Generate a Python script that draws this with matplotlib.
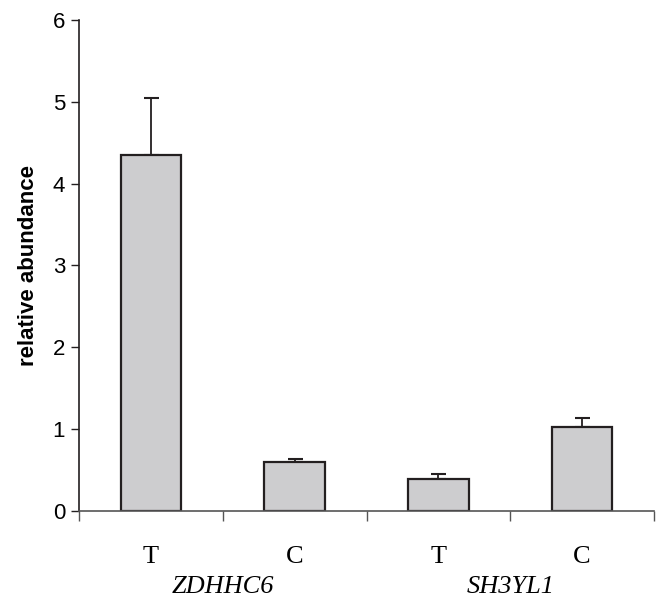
import numpy as np
import matplotlib
matplotlib.use('Agg')
import matplotlib.pyplot as plt

# values
samples = ['T', 'C', 'T', 'C']
genes = ['ZDHHC6', 'SH3YL1']
abundance = [4.35, 0.60, 0.39, 1.03]
err_up = [0.70, 0.04, 0.06, 0.11]

plt.rcParams['font.family'] = ['Liberation Sans', 'DejaVu Sans']

fig = plt.figure(figsize=(6.58, 6.02), dpi=100)
ax = fig.add_axes([0.1201, 0.1512, 0.8738, 0.8156])

x = np.arange(len(abundance))
ax.bar(x, abundance, width=0.42, color='#cdcdcf', edgecolor='#231f20',
       linewidth=1.6, zorder=2)
ax.errorbar(x, abundance, yerr=[np.zeros(len(err_up)), err_up], fmt='none',
            ecolor='#231f20', elinewidth=1.3, capsize=5.4, capthick=1.5,
            zorder=1)

ax.set_xlim(-0.5, 3.5)
ax.set_ylim(0, 6)
ax.set_yticks(range(0, 7))
ax.tick_params(axis='y', labelsize=16, length=6, width=1, color='#231f20',
               pad=4)

# boundary ticks on x axis, sample labels as minor ticks
ax.set_xticks(np.arange(-0.5, 4.0, 1.0))
ax.set_xticklabels([])
ax.tick_params(axis='x', which='major', length=7, width=1, color='#555555')
ax.set_xticks(x, minor=True)
ax.set_xticklabels(samples, minor=True, fontfamily='Liberation Serif',
                   fontsize=19)
ax.tick_params(axis='x', which='minor', length=0, pad=25)

for i, g in enumerate(genes):
    ax.annotate(g, xy=(2 * i + 0.5, 0), xycoords=('data', 'axes fraction'),
                xytext=(0, -55), textcoords='offset points', ha='center',
                va='center', fontsize=19, fontstyle='italic',
                fontfamily='Liberation Serif')

ax.set_ylabel('relative abundance', fontsize=16, fontweight='bold',
              fontstretch='normal', labelpad=10)

ax.spines['top'].set_visible(False)
ax.spines['right'].set_visible(False)
ax.spines['left'].set_linewidth(1.2)
ax.spines['left'].set_color('#231f20')
ax.spines['bottom'].set_linewidth(1.2)
ax.spines['bottom'].set_color('#555555')

fig.savefig('out.png', dpi=100)
